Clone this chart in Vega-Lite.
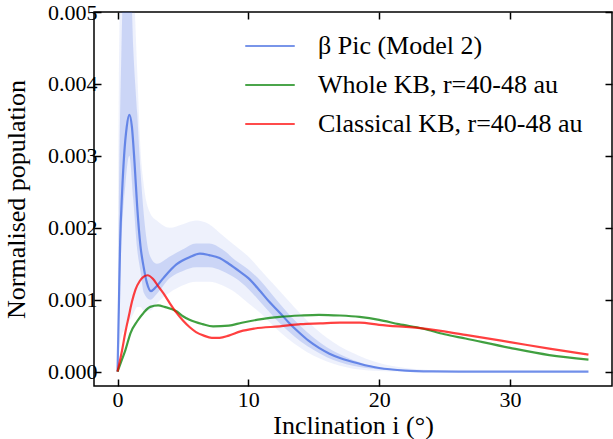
{
  "$schema": "https://vega.github.io/schema/vega-lite/v6.json",
  "width": 518,
  "height": 374,
  "autosize": {"type": "none"},
  "padding": {"left": 94, "top": 12, "right": 1, "bottom": 53},
  "background": "white",
  "config": {
    "view": {"stroke": "black", "strokeWidth": 1.5},
    "font": "Liberation Serif, Times New Roman, DejaVu Serif, serif",
    "axis": {
      "domain": false,
      "grid": false,
      "ticks": true,
      "tickSize": -7,
      "tickWidth": 1.5,
      "tickColor": "black",
      "labelFont": "Liberation Serif, Times New Roman, DejaVu Serif, serif",
      "labelFontSize": 22,
      "labelColor": "black",
      "titleFont": "Liberation Serif, Times New Roman, DejaVu Serif, serif",
      "titleFontSize": 26,
      "titleFontWeight": "normal",
      "titleColor": "black"
    }
  },
  "datasets": {
    "curves": [
      {"series": "β Pic (Model 2)", "x": 0, "y": 0},
      {"series": "β Pic (Model 2)", "x": 0.1, "y": 0.0009},
      {"series": "β Pic (Model 2)", "x": 0.2, "y": 0.0018},
      {"series": "β Pic (Model 2)", "x": 0.35, "y": 0.0025},
      {"series": "β Pic (Model 2)", "x": 0.5, "y": 0.003},
      {"series": "β Pic (Model 2)", "x": 0.7, "y": 0.0034},
      {"series": "β Pic (Model 2)", "x": 0.9, "y": 0.00357},
      {"series": "β Pic (Model 2)", "x": 1.1, "y": 0.0034},
      {"series": "β Pic (Model 2)", "x": 1.3, "y": 0.0029},
      {"series": "β Pic (Model 2)", "x": 1.5, "y": 0.0023},
      {"series": "β Pic (Model 2)", "x": 1.75, "y": 0.00175},
      {"series": "β Pic (Model 2)", "x": 2.0, "y": 0.00145},
      {"series": "β Pic (Model 2)", "x": 2.25, "y": 0.00123},
      {"series": "β Pic (Model 2)", "x": 2.55, "y": 0.00112},
      {"series": "β Pic (Model 2)", "x": 2.9, "y": 0.00117},
      {"series": "β Pic (Model 2)", "x": 3.5, "y": 0.0013},
      {"series": "β Pic (Model 2)", "x": 4.5, "y": 0.00149},
      {"series": "β Pic (Model 2)", "x": 5.5, "y": 0.00159},
      {"series": "β Pic (Model 2)", "x": 6.3, "y": 0.00164},
      {"series": "β Pic (Model 2)", "x": 7.0, "y": 0.00162},
      {"series": "β Pic (Model 2)", "x": 7.8, "y": 0.00158},
      {"series": "β Pic (Model 2)", "x": 8.5, "y": 0.0015},
      {"series": "β Pic (Model 2)", "x": 9.35, "y": 0.00139},
      {"series": "β Pic (Model 2)", "x": 10, "y": 0.0013},
      {"series": "β Pic (Model 2)", "x": 10.9, "y": 0.00112},
      {"series": "β Pic (Model 2)", "x": 11.6, "y": 0.00097},
      {"series": "β Pic (Model 2)", "x": 12.4, "y": 0.00082},
      {"series": "β Pic (Model 2)", "x": 13.1, "y": 0.00068},
      {"series": "β Pic (Model 2)", "x": 13.9, "y": 0.00054},
      {"series": "β Pic (Model 2)", "x": 14.6, "y": 0.00043},
      {"series": "β Pic (Model 2)", "x": 15.4, "y": 0.00033},
      {"series": "β Pic (Model 2)", "x": 16.2, "y": 0.00025},
      {"series": "β Pic (Model 2)", "x": 17, "y": 0.00019},
      {"series": "β Pic (Model 2)", "x": 18.5, "y": 0.00011},
      {"series": "β Pic (Model 2)", "x": 20, "y": 0.00005},
      {"series": "β Pic (Model 2)", "x": 22, "y": 0.000015},
      {"series": "β Pic (Model 2)", "x": 24, "y": 0.000004},
      {"series": "β Pic (Model 2)", "x": 27, "y": 0},
      {"series": "β Pic (Model 2)", "x": 30, "y": 0},
      {"series": "β Pic (Model 2)", "x": 36, "y": 0},
      {"series": "Whole KB, r=40-48 au", "x": 0, "y": 0},
      {"series": "Whole KB, r=40-48 au", "x": 0.3, "y": 0.00015},
      {"series": "Whole KB, r=40-48 au", "x": 0.6, "y": 0.0003},
      {"series": "Whole KB, r=40-48 au", "x": 1.0, "y": 0.00054},
      {"series": "Whole KB, r=40-48 au", "x": 1.5, "y": 0.0007},
      {"series": "Whole KB, r=40-48 au", "x": 2.0, "y": 0.00082},
      {"series": "Whole KB, r=40-48 au", "x": 2.5, "y": 0.0009},
      {"series": "Whole KB, r=40-48 au", "x": 3.1, "y": 0.00092},
      {"series": "Whole KB, r=40-48 au", "x": 3.6, "y": 0.0009},
      {"series": "Whole KB, r=40-48 au", "x": 4.5, "y": 0.00084},
      {"series": "Whole KB, r=40-48 au", "x": 5.0, "y": 0.00077},
      {"series": "Whole KB, r=40-48 au", "x": 5.5, "y": 0.00072},
      {"series": "Whole KB, r=40-48 au", "x": 6.5, "y": 0.00066},
      {"series": "Whole KB, r=40-48 au", "x": 7.3, "y": 0.00063},
      {"series": "Whole KB, r=40-48 au", "x": 8.5, "y": 0.00064},
      {"series": "Whole KB, r=40-48 au", "x": 9.5, "y": 0.00068},
      {"series": "Whole KB, r=40-48 au", "x": 11, "y": 0.00073},
      {"series": "Whole KB, r=40-48 au", "x": 12.4, "y": 0.00076},
      {"series": "Whole KB, r=40-48 au", "x": 14, "y": 0.00078},
      {"series": "Whole KB, r=40-48 au", "x": 15.4, "y": 0.00079},
      {"series": "Whole KB, r=40-48 au", "x": 17, "y": 0.00078},
      {"series": "Whole KB, r=40-48 au", "x": 18.5, "y": 0.00076},
      {"series": "Whole KB, r=40-48 au", "x": 20, "y": 0.00072},
      {"series": "Whole KB, r=40-48 au", "x": 21.5, "y": 0.00066},
      {"series": "Whole KB, r=40-48 au", "x": 23.3, "y": 0.0006},
      {"series": "Whole KB, r=40-48 au", "x": 25, "y": 0.00052},
      {"series": "Whole KB, r=40-48 au", "x": 26.6, "y": 0.00046},
      {"series": "Whole KB, r=40-48 au", "x": 30, "y": 0.00033},
      {"series": "Whole KB, r=40-48 au", "x": 33, "y": 0.00023},
      {"series": "Whole KB, r=40-48 au", "x": 36, "y": 0.000167},
      {"series": "Classical KB, r=40-48 au", "x": 0, "y": 0},
      {"series": "Classical KB, r=40-48 au", "x": 0.35, "y": 0.0003},
      {"series": "Classical KB, r=40-48 au", "x": 0.6, "y": 0.00055},
      {"series": "Classical KB, r=40-48 au", "x": 0.86, "y": 0.00077},
      {"series": "Classical KB, r=40-48 au", "x": 1.1, "y": 0.00097},
      {"series": "Classical KB, r=40-48 au", "x": 1.37, "y": 0.00114},
      {"series": "Classical KB, r=40-48 au", "x": 1.7, "y": 0.00126},
      {"series": "Classical KB, r=40-48 au", "x": 2.0, "y": 0.00132},
      {"series": "Classical KB, r=40-48 au", "x": 2.3, "y": 0.00134},
      {"series": "Classical KB, r=40-48 au", "x": 2.7, "y": 0.00129},
      {"series": "Classical KB, r=40-48 au", "x": 3.1, "y": 0.00119},
      {"series": "Classical KB, r=40-48 au", "x": 3.5, "y": 0.00109},
      {"series": "Classical KB, r=40-48 au", "x": 4.0, "y": 0.00095},
      {"series": "Classical KB, r=40-48 au", "x": 4.5, "y": 0.00082},
      {"series": "Classical KB, r=40-48 au", "x": 5.0, "y": 0.00071},
      {"series": "Classical KB, r=40-48 au", "x": 5.5, "y": 0.00062},
      {"series": "Classical KB, r=40-48 au", "x": 6.0, "y": 0.00055},
      {"series": "Classical KB, r=40-48 au", "x": 6.6, "y": 0.0005},
      {"series": "Classical KB, r=40-48 au", "x": 7.2, "y": 0.00047},
      {"series": "Classical KB, r=40-48 au", "x": 7.8, "y": 0.00047},
      {"series": "Classical KB, r=40-48 au", "x": 8.5, "y": 0.0005},
      {"series": "Classical KB, r=40-48 au", "x": 9.4, "y": 0.00056},
      {"series": "Classical KB, r=40-48 au", "x": 10.5, "y": 0.0006},
      {"series": "Classical KB, r=40-48 au", "x": 12.4, "y": 0.00063},
      {"series": "Classical KB, r=40-48 au", "x": 14, "y": 0.00066},
      {"series": "Classical KB, r=40-48 au", "x": 15.5, "y": 0.00067},
      {"series": "Classical KB, r=40-48 au", "x": 17, "y": 0.00068},
      {"series": "Classical KB, r=40-48 au", "x": 18.5, "y": 0.00068},
      {"series": "Classical KB, r=40-48 au", "x": 20, "y": 0.00065},
      {"series": "Classical KB, r=40-48 au", "x": 23.3, "y": 0.0006},
      {"series": "Classical KB, r=40-48 au", "x": 26.6, "y": 0.00051},
      {"series": "Classical KB, r=40-48 au", "x": 30, "y": 0.00041},
      {"series": "Classical KB, r=40-48 au", "x": 33, "y": 0.00032},
      {"series": "Classical KB, r=40-48 au", "x": 36, "y": 0.000236}
    ],
    "bands": [
      {"x": 0, "lo1": 0, "hi1": 0, "lo2": 0, "hi2": 0},
      {"x": 0.1, "lo1": 0.0003, "hi1": 0.004, "lo2": 0.0006, "hi2": 0.0022},
      {"x": 0.3, "lo1": 0.0005, "hi1": 0.006, "lo2": 0.0018, "hi2": 0.0045},
      {"x": 0.6, "lo1": 0.0006, "hi1": 0.006, "lo2": 0.0026, "hi2": 0.006},
      {"x": 0.9, "lo1": 0.0007, "hi1": 0.006, "lo2": 0.003, "hi2": 0.006},
      {"x": 1.2, "lo1": 0.0008, "hi1": 0.0055, "lo2": 0.0024, "hi2": 0.0045},
      {"x": 1.5, "lo1": 0.0009, "hi1": 0.0042, "lo2": 0.0017, "hi2": 0.0036},
      {"x": 1.75, "lo1": 0.0009, "hi1": 0.0031, "lo2": 0.0014, "hi2": 0.0028},
      {"x": 2.0, "lo1": 0.00085, "hi1": 0.0026, "lo2": 0.0011, "hi2": 0.0022},
      {"x": 2.5, "lo1": 0.00085, "hi1": 0.0022, "lo2": 0.001, "hi2": 0.0016},
      {"x": 3, "lo1": 0.00095, "hi1": 0.0021, "lo2": 0.00108, "hi2": 0.0015},
      {"x": 4, "lo1": 0.0011, "hi1": 0.002, "lo2": 0.0013, "hi2": 0.0016},
      {"x": 5, "lo1": 0.0012, "hi1": 0.00205, "lo2": 0.0014, "hi2": 0.0017},
      {"x": 6, "lo1": 0.00125, "hi1": 0.0021, "lo2": 0.00145, "hi2": 0.00178},
      {"x": 7, "lo1": 0.00125, "hi1": 0.00205, "lo2": 0.00145, "hi2": 0.00178},
      {"x": 8, "lo1": 0.0012, "hi1": 0.0019, "lo2": 0.0014, "hi2": 0.0017},
      {"x": 9, "lo1": 0.0011, "hi1": 0.00175, "lo2": 0.0013, "hi2": 0.00155},
      {"x": 10, "lo1": 0.00095, "hi1": 0.0016, "lo2": 0.00115, "hi2": 0.00142},
      {"x": 11, "lo1": 0.0008, "hi1": 0.0014, "lo2": 0.00095, "hi2": 0.00125},
      {"x": 12, "lo1": 0.00062, "hi1": 0.0012, "lo2": 0.00075, "hi2": 0.00103},
      {"x": 13, "lo1": 0.00046, "hi1": 0.001, "lo2": 0.00057, "hi2": 0.00082},
      {"x": 14, "lo1": 0.00033, "hi1": 0.0008, "lo2": 0.00042, "hi2": 0.00063},
      {"x": 15, "lo1": 0.00022, "hi1": 0.00062, "lo2": 0.0003, "hi2": 0.00047},
      {"x": 16, "lo1": 0.00014, "hi1": 0.00047, "lo2": 0.0002, "hi2": 0.00034},
      {"x": 17, "lo1": 0.00008, "hi1": 0.00035, "lo2": 0.00013, "hi2": 0.00024},
      {"x": 18, "lo1": 0.00004, "hi1": 0.00026, "lo2": 0.00008, "hi2": 0.00016},
      {"x": 19, "lo1": 0.00002, "hi1": 0.00018, "lo2": 0.00005, "hi2": 0.0001},
      {"x": 20, "lo1": 0.00001, "hi1": 0.00012, "lo2": 0.00003, "hi2": 0.00006},
      {"x": 22, "lo1": 0, "hi1": 0.00005, "lo2": 0.00001, "hi2": 0.00002},
      {"x": 24, "lo1": 0, "hi1": 0.00002, "lo2": 0, "hi2": 0},
      {"x": 28, "lo1": 0, "hi1": 0, "lo2": 0, "hi2": 0},
      {"x": 36, "lo1": 0, "hi1": 0, "lo2": 0, "hi2": 0}
    ]
  },
  "resolve": {"axis": {"x": "independent", "y": "independent"}},
  "layer": [
    {
      "data": {"name": "bands"},
      "mark": {"type": "area", "color": "#4169E1", "opacity": 0.09, "interpolate": "monotone", "clip": true},
      "encoding": {
        "x": {"field": "x", "type": "quantitative", "scale": {"domain": [-1.8, 37.8], "nice": false, "zero": false},
              "axis": {"orient": "bottom", "values": [0, 10, 20, 30], "title": "Inclination i (°)", "labelPadding": 10, "titlePadding": 2}},
        "y": {"field": "lo1", "type": "quantitative", "scale": {"domain": [-0.0002, 0.005], "nice": false, "zero": false},
              "axis": {"orient": "left", "values": [0, 0.001, 0.002, 0.003, 0.004, 0.005], "format": ".3f", "title": "Normalised population", "labelPadding": 4, "titlePadding": 18}},
        "y2": {"field": "hi1"}
      }
    },
    {
      "data": {"name": "bands"},
      "mark": {"type": "area", "color": "#4169E1", "opacity": 0.2, "interpolate": "monotone", "clip": true},
      "encoding": {
        "x": {"field": "x", "type": "quantitative", "axis": {"orient": "top", "values": [0, 10, 20, 30], "labels": false, "title": null}},
        "y": {"field": "lo2", "type": "quantitative", "axis": {"orient": "right", "values": [0, 0.001, 0.002, 0.003, 0.004, 0.005], "labels": false, "title": null}},
        "y2": {"field": "hi2"}
      }
    },
    {
      "data": {"name": "curves"},
      "mark": {"type": "line", "strokeWidth": 2.2, "opacity": 0.75, "interpolate": "monotone", "clip": true},
      "encoding": {
        "x": {"field": "x", "type": "quantitative", "axis": null},
        "y": {"field": "y", "type": "quantitative", "axis": null},
        "color": {
          "field": "series", "type": "nominal",
          "scale": {"domain": ["β Pic (Model 2)", "Whole KB, r=40-48 au", "Classical KB, r=40-48 au"], "range": ["#4169E1", "#008000", "#FF0000"]},
          "legend": {"orient": "none", "legendX": 150, "legendY": 8, "title": null, "symbolType": "stroke", "symbolSize": 2450, "symbolStrokeWidth": 2.2, "symbolOpacity": 0.7, "labelFont": "Liberation Serif, Times New Roman, DejaVu Serif, serif", "labelFontSize": 26, "labelColor": "black", "labelOffset": 22, "rowPadding": 0, "labelLimit": 400}
        }
      }
    }
  ]
}
